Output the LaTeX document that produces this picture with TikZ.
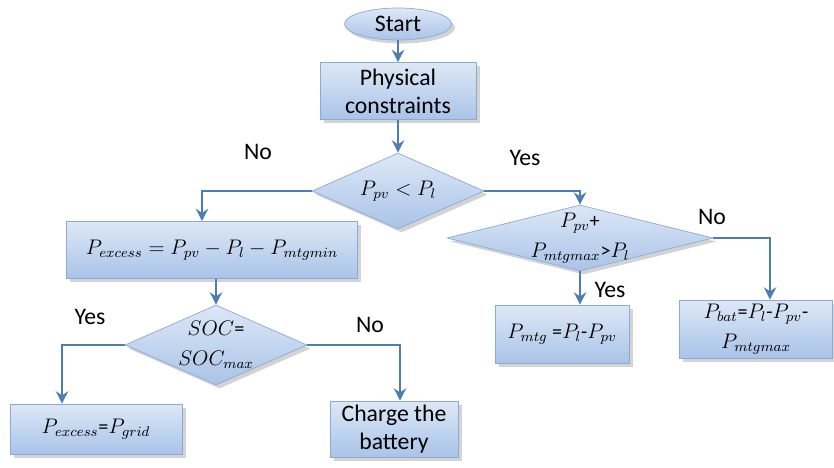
\documentclass[tikz,border=0pt]{standalone}
\usepackage{amsmath}
\usepackage{fontspec}
\setmainfont{Carlito}
\usetikzlibrary{shapes.geometric,arrows.meta,shadows}

\definecolor{boxtop}{HTML}{DDE8F6}
\definecolor{boxbot}{HTML}{A9C3E8}
\definecolor{boxline}{HTML}{8DA9D6}
\definecolor{flow}{HTML}{4E7DB3}

\tikzset{
  block/.style={draw=boxline, top color=boxtop, bottom color=boxbot,
    drop shadow={shadow xshift=2pt, shadow yshift=-2pt, opacity=0.35},
    align=center, inner sep=2pt},
  decision/.style={block, shape=diamond, inner sep=0pt},
  flowline/.style={draw=flow, line width=1.6pt, -{Stealth[length=7pt,width=7pt]}},
  answer/.style={font=\fontsize{13.5}{16}\selectfont},
  mathtext/.style={font=\fontsize{11.5}{15}\selectfont}
}

\begin{document}
\begin{tikzpicture}[x=0.02cm, y=-0.02cm, font=\fontsize{13.5}{16}\selectfont]
  \useasboundingbox (0,0) rectangle (834,467);

  \node[block, ellipse, minimum width=2.14cm, minimum height=0.64cm] (start) at (398,24) {Start};
  \node[block, minimum width=3.12cm, minimum height=1.14cm] (phys) at (398,91) {Physical\\constraints};

  \node[decision, minimum width=3.44cm, minimum height=1.52cm,
    label={[mathtext]center:$P_{pv} < P_l$}] (d1) at (398,191) {};
  \node[decision, minimum width=5.32cm, minimum height=1.32cm,
    label={[mathtext, align=center]center:$P_{pv}$+\\[2pt]$P_{mtgmax}$>$P_l$}] (d2) at (580,238) {};

  \node[block, mathtext, minimum width=5.82cm, minimum height=1.14cm] (pex) at (212,250) {$P_{excess} = P_{pv} - P_l - P_{mtgmin}$};
  \node[decision, minimum width=3.64cm, minimum height=1.6cm,
    label={[mathtext, align=center]center:$SOC$=\\[2pt]$SOC_{max}$}] (d3) at (216,345) {};

  \node[block, mathtext, minimum width=2.68cm, minimum height=1.16cm] (mtg) at (562,334) {$P_{mtg}$ =$P_l$-$P_{pv}$};
  \node[block, mathtext, minimum width=3.06cm, minimum height=1.16cm] (bat) at (756,329) {$P_{bat}$=$P_l$-$P_{pv}$-\\[2pt]$P_{mtgmax}$};

  \node[block, mathtext, minimum width=3.44cm, minimum height=1.0cm] (grid) at (96,429) {$P_{excess}$=$P_{grid}$};
  \node[block, minimum width=2.56cm, minimum height=1.12cm] (charge) at (394,429) {Charge the\\battery};

  % connectors
  \draw[flowline] (start) -- (phys);
  \draw[flowline] (phys) -- (d1);
  \draw[flowline] (d1.west) -| ([xshift=-0.2cm]pex.north);
  \draw[flowline] (d1.east) -| (d2.north);
  \draw[flowline] (pex.south -| d3.north) -- (d3.north);
  \draw[flowline] (d2.south) -- (d2.south |- mtg.north);
  \draw[flowline] (d2.east) -| ([xshift=0.28cm]bat.north);
  \draw[flowline] (d3.west) -| ([xshift=-0.68cm]grid.north);
  \draw[flowline] (d3.east) -| ([xshift=0.12cm]charge.north);

  % answers
  \node[answer] (no1) at (258,152) {No};
  \node[answer] (yes1) at (525,158) {Yes};
  \node[answer] (no2) at (712,217) {No};
  \node[answer] (yes2) at (610,290) {Yes};
  \node[answer] (yes3) at (90,317) {Yes};
  \node[answer] (no3) at (370,325) {No};
\end{tikzpicture}
\end{document}
